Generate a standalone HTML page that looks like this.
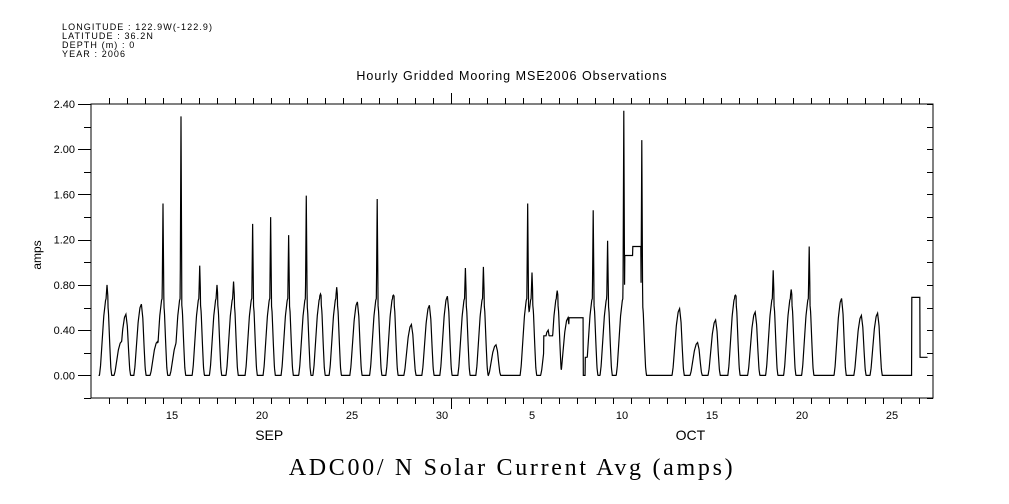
<!DOCTYPE html>
<html><head><meta charset="utf-8"><style>
html,body{margin:0;padding:0;background:#fff;}
svg{display:block;}
text{font-family:"Liberation Sans",sans-serif;fill:#000;}
</style></head><body>
<svg id="chart" width="1009" height="504" xmlns="http://www.w3.org/2000/svg">
<g font-size="9" letter-spacing="1.1">
<text x="62" y="30">LONGITUDE : 122.9W(-122.9)</text>
<text x="62" y="39">LATITUDE : 36.2N</text>
<text x="62" y="48">DEPTH (m) : 0</text>
<text x="62" y="57">YEAR : 2006</text>
</g>
<text x="512" y="80" text-anchor="middle" font-size="12.5" letter-spacing="1">Hourly Gridded Mooring MSE2006 Observations</text>
<text transform="translate(41,255) rotate(-90)" text-anchor="middle" font-size="12">amps</text>
<text x="512" y="475" text-anchor="middle" font-size="24" letter-spacing="2.7" style="font-family:'Liberation Serif',serif">ADC00/ N Solar Current Avg (amps)</text>
<rect x="91" y="104" width="842" height="294" fill="none" stroke="#000" stroke-width="1"/>
<g id="axes"></g>
<g id="series"></g>
</svg>
<script>
// Days since Sep 11 00:00 UTC
const peakTimes = [0.89,1.94,2.8,4.0,5.0,6.04,7.0,7.92,8.98,9.98,10.98,11.96,12.75,13.65,14.8,15.9,16.8,17.8,18.8,19.8,20.8,21.8,22.5,24.26,24.5,25.9,27.9,28.7,29.6,30.6,32.7,33.7,34.7,35.8,36.9,37.9,38.9,39.9,41.7,42.8,43.7,1.7,3.7,4.8,25.4,26.5];
const peakValues = [0.80,0.54,0.63,1.52,2.29,0.97,0.80,0.83,1.34,1.40,1.24,1.59,0.72,0.78,0.65,1.56,0.71,0.45,0.62,0.70,0.95,0.96,0.27,1.52,0.91,0.75,1.46,1.19,2.34,2.08,0.59,0.29,0.49,0.71,0.56,0.93,0.76,1.14,0.68,0.53,0.55,0.30,0.30,0.30,0.40,0.51];
const plateauStarts = [25.15,26.55,27.45,29.65,30.1,45.6,46.05];
const plateauEnds =   [25.7,27.35,27.9,30.1,30.55,46.05,46.5];
const plateauValues = [0.35,0.51,0.16,1.06,1.14,0.69,0.16];
const yTickValues = [0.00,0.40,0.80,1.20,1.60,2.00,2.40];
const xTickLabels = ["15","20","25","30","5","10","15","20","25"];
const xTickDays = [4,9,14,19,24,29,34,39,44];
const monthLabels = ["SEP","OCT"];
const monthDays = [9.9,33.3];
const dataStart = 0.42, dataEnd = 46.48;

const X0=91, X1=933, Y0=398, Y1=104, DMIN=0, DMAX=(933-91)/18, VMIN=-0.2, VMAX=2.4;
const xs = d => X0 + (d-DMIN)/(DMAX-DMIN)*(X1-X0);
const ys = v => Y0 - (v-VMIN)/(VMAX-VMIN)*(Y0-Y1);
const NS="http://www.w3.org/2000/svg";
const axes=document.getElementById('axes'), series=document.getElementById('series');
function mk(tag, attrs, parent){const e=document.createElementNS(NS,tag);for(const k in attrs)e.setAttribute(k,attrs[k]);parent.appendChild(e);return e;}

for(let i=0;i<=13;i++){
  const v=-0.2+i*0.2, y=Math.round(ys(v))+0.5;
  const major = Math.abs((v/0.4)-Math.round(v/0.4))<1e-6 && v>=0;
  const t=mk('line',{x1:major?78:84,x2:91,y1:y,y2:y,stroke:'#000'},axes);
  
  
  const r=mk('line',{x1:927,x2:933,y1:y,y2:y,stroke:'#000'},axes);
  
  
}
yTickValues.forEach(v=>{
  const t=mk('text',{x:75,y:ys(v)+4,'text-anchor':'end','font-size':'11'},axes);
  t.textContent=v.toFixed(2);
  
  
});
for(let d=1;d<DMAX;d++){
  const x=Math.round(xs(d))+0.5, big=(d===20);
  const a=mk('line',{x1:x,x2:x,y1:big?93:98,y2:104,stroke:'#000'},axes);
  
  
  const b=mk('line',{x1:x,x2:x,y1:398,y2:big?409:404,stroke:'#000'},axes);
  
  
}
xTickLabels.forEach((l,i)=>{
  const t=mk('text',{x:xs(xTickDays[i]+0.5),y:419,'text-anchor':'middle','font-size':'11'},axes);
  t.textContent=l;
  
  
});
monthLabels.forEach((l,i)=>{
  const t=mk('text',{x:xs(monthDays[i]),y:440,'text-anchor':'middle','font-size':'14'},axes);
  t.textContent=l;
  
  
});

const shapeT=[-0.42,-0.36,-0.28,-0.18,-0.08,0,0.08,0.15,0.21,0.26];
const shapeF=[0,0.12,0.4,0.75,0.95,1,0.8,0.4,0.1,0];
function interp(dt){
  if(dt<=shapeT[0]||dt>=shapeT[shapeT.length-1])return 0;
  for(let k=0;k<shapeT.length-1;k++){
    if(dt>=shapeT[k]&&dt<=shapeT[k+1]){
      const f=(dt-shapeT[k])/(shapeT[k+1]-shapeT[k]);
      return shapeF[k]+f*(shapeF[k+1]-shapeF[k]);
    }
  }
  return 0;
}
function bumpVal(t,pt,pv){
  const dt=t-pt;
  const base=Math.min(pv,0.7);
  let v=base*interp(dt);
  if(pv>base){
    const w=0.045, a=Math.abs(dt);
    if(a<w) v=Math.max(v, base+(pv-base)*(1-a/w));
  }
  return v;
}
function valueAt(t){
  let v=0;
  for(let i=0;i<peakTimes.length;i++) v=Math.max(v,bumpVal(t,peakTimes[i],peakValues[i]));
  for(let i=0;i<plateauStarts.length;i++) if(t>=plateauStarts[i]&&t<=plateauEnds[i]) v=Math.max(v,plateauValues[i]);
  return v;
}
const times=[];
for(let t=dataStart;t<=dataEnd+1e-9;t+=1/72) times.push(t);
peakTimes.forEach(p=>{ if(p>dataStart&&p<dataEnd) times.push(p); });
times.sort((a,b)=>a-b);
const pts=times.map(t=>xs(t).toFixed(2)+','+ys(valueAt(t)).toFixed(2));
const line=mk('polyline',{points:pts.join(' '),fill:'none',stroke:'#000','stroke-width':'1.2'},series);


</script>
</body></html>
